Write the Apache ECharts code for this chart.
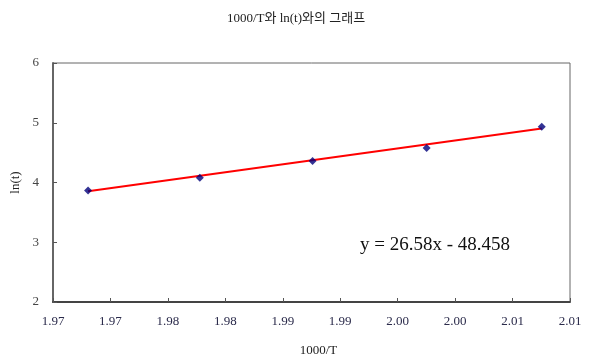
<!DOCTYPE html>
<html>
<head>
<meta charset="utf-8">
<script src="https://cdn.jsdelivr.net/npm/echarts@6/dist/echarts.min.js"></script>
<style>
html,body{margin:0;padding:0;background:#fff;}
#c{width:592px;height:358px;}
</style>
</head>
<body>
<div id="c"></div>
<script>
// Data
const xValues = [1.96805, 1.97778, 1.98759, 1.99752, 2.00754];   // 1000/T
const yValues = [3.865, 4.078, 4.358, 4.576, 4.933];              // ln(t)
const xTickLabels = ['1.97','1.97','1.98','1.98','1.99','1.99','2.00','2.00','2.01','2.01'];
const yTickLabels = ['2','3','4','5','6'];
const slope = 26.58;
const intercept = -48.458;
const equationText = 'y = 26.58x - 48.458';
const titleText = '1000/T와 ln(t)와의 그래프';

const xMin = 1.965, xMax = 2.010, xStep = 0.005;
const points = xValues.map((x, i) => [x, yValues[i]]);
const trendX = [xValues[0], xValues[xValues.length - 1]];
const trend = trendX.map(x => [x, slope * x + intercept]);

const serif = '"Liberation Serif", "Noto Sans CJK KR", serif';
const chart = echarts.init(document.getElementById('c'));
chart.setOption({
  animation: false,
  backgroundColor: '#fff',
  title: {
    text: titleText,
    left: 'center',
    top: 7,
    textStyle: { fontFamily: serif, fontSize: 13, fontWeight: 'normal', color: '#222' }
  },
  grid: {
    left: 53, right: 22, top: 63, bottom: 56,
    outerBoundsMode: 'none', containLabel: false,
    show: true, borderColor: '#666', borderWidth: 1, backgroundColor: 'transparent'
  },
  xAxis: {
    type: 'value',
    min: xMin, max: xMax, interval: xStep,
    name: '1000/T', nameLocation: 'middle', nameGap: 42,
    nameTextStyle: { fontFamily: serif, fontSize: 13, color: '#222', padding: [0, 0, 0, 14] },
    axisLine: { show: true, lineStyle: { color: '#444', width: 2 } },
    axisTick: { show: true, inside: true, length: 4, lineStyle: { color: '#555' } },
    splitLine: { show: false },
    axisLabel: {
      fontFamily: serif, fontSize: 13, color: '#2b2b4b', margin: 13,
      formatter: v => xTickLabels[Math.round((v - xMin) / xStep)] || ''
    }
  },
  yAxis: {
    type: 'value',
    min: 2, max: 6, interval: 1,
    name: 'ln(t)', nameLocation: 'middle', nameGap: 29, nameRotate: 90,
    nameTextStyle: { fontFamily: serif, fontSize: 13, color: '#222' },
    axisLine: { show: true, lineStyle: { color: '#666', width: 2 } },
    axisTick: { show: true, inside: true, length: 4, lineStyle: { color: '#555' } },
    splitLine: { show: false },
    axisLabel: {
      fontFamily: serif, fontSize: 13, color: '#444', margin: 14,
      formatter: v => yTickLabels[Math.round(v - 2)] || ''
    }
  },
  series: [
    {
      type: 'line',
      data: trend,
      symbol: 'none',
      lineStyle: { color: '#ff0000', width: 2 },
      z: 2
    },
    {
      type: 'scatter',
      data: points,
      symbol: 'diamond',
      symbolSize: 8,
      itemStyle: { color: '#00007a' },
      z: 3
    }
  ],
  graphic: [{
    type: 'text',
    left: 360, top: 236,
    style: { text: equationText, font: '19px ' + serif, fill: '#111' }
  }]
});
</script>
</body>
</html>
